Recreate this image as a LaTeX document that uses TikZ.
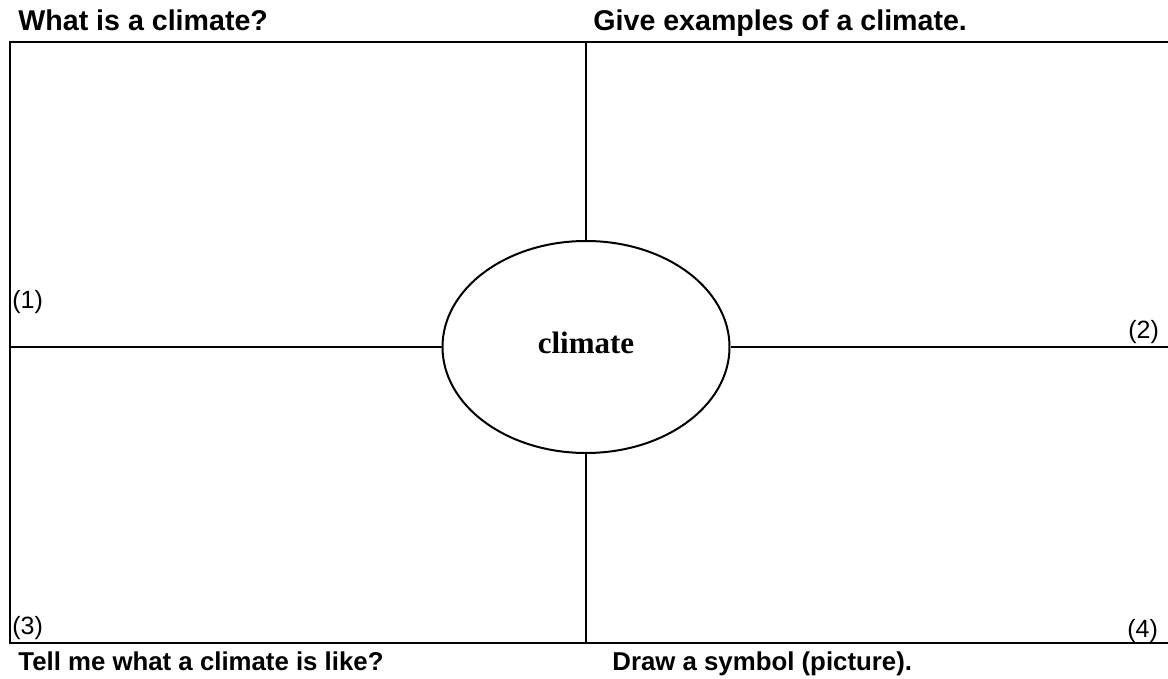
\documentclass[tikz,border=0pt]{standalone}
\usepackage{fontspec}
\setmainfont{Liberation Sans}
\newfontfamily\hubfont{Liberation Serif}
\usetikzlibrary{shapes.geometric}

\begin{document}
\begin{tikzpicture}[
        x=0.5pt, y=-0.5pt,
        frame/.style={line width=1pt},
        head/.style={font=\fontsize{14.3}{16}\selectfont\bfseries, anchor=base west, inner sep=0pt},
        foot/.style={head, font=\fontsize{12.9}{15}\selectfont\bfseries},
        num/.style={font=\fontsize{12.5}{14}\selectfont, anchor=base west, inner sep=0pt},
        hub/.style={draw, ellipse, line width=1pt, minimum width=143.5pt, minimum height=106pt,
            inner sep=0pt, font=\hubfont\fontsize{15.5}{18}\selectfont\bfseries}]

    \useasboundingbox (0,0) rectangle (1168,679);

    % ---------- frame ----------
    \coordinate (tl) at (10,42);
    \coordinate (tr) at (1168,42);
    \coordinate (bl) at (10,643);
    \coordinate (br) at (1168,643);
    \coordinate (ml) at (10,347);
    \coordinate (mr) at (1168,347);
    \coordinate (tm) at (586,42);
    \coordinate (bm) at (586,643);

    \node[hub] (hub) at (586,347) {\raisebox{4pt}{climate}};

    \draw[frame] (tr) -- (tl) -- (bl) -- (br);
    \draw[frame] (ml) -- (hub.west);
    \draw[frame] (hub.east) -- (mr);
    \draw[frame] (tm) -- (hub.north);
    \draw[frame] (hub.south) -- (bm);

    % ---------- questions ----------
    \node[head] (what) at (18,31) {What is a climate?};
    \node[head] (give) at (593,31) {Give examples of a climate.};
    \node[foot] (tell) at (18,670) {Tell me what a climate is like?};
    \node[foot] (draw) at (612,670) {Draw a symbol (picture).};

    % ---------- quadrant numbers ----------
    \node[num] (q1) at (12,309) {(1)};
    \node[num] (q2) at (1128,339) {(2)};
    \node[num] (q3) at (12,634) {(3)};
    \node[num] (q4) at (1127,637) {(4)};
\end{tikzpicture}
\end{document}
